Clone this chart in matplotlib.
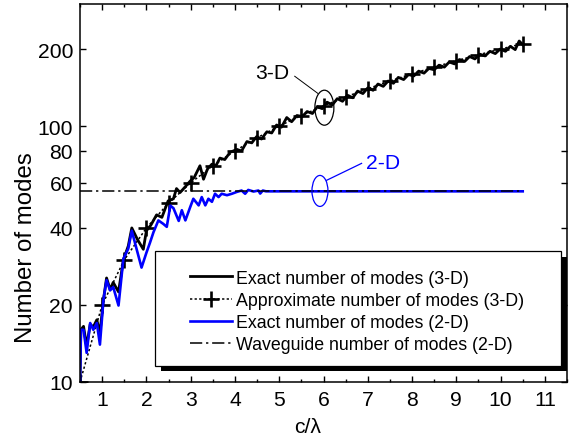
import matplotlib
matplotlib.use("Agg")
import matplotlib.pyplot as plt
import matplotlib.transforms as mtrans
from matplotlib.patches import Ellipse, Rectangle
from matplotlib.ticker import FixedLocator, NullLocator, FixedFormatter, MultipleLocator

plt.rcParams['font.family'] = ['Liberation Sans', 'DejaVu Sans']

# ---------------- data ----------------
exact3d_x = [0.50, 0.52, 0.58, 0.65, 0.73, 0.80, 0.88, 0.95, 1.03, 1.10, 1.18, 1.25,
             1.37, 1.48, 1.59, 1.67, 1.80, 1.93, 2.00, 2.10, 2.23, 2.35, 2.49, 2.61,
             2.68, 2.76, 2.88, 2.99, 3.08, 3.21, 3.29, 3.38, 3.48, 3.57, 3.66, 3.77,
             3.89, 4.04, 4.15, 4.27, 4.38, 4.49, 4.60, 4.72, 4.83, 4.94, 5.05, 5.17,
             5.28, 5.40, 5.52, 5.63, 5.75, 5.86, 5.97, 6.08, 6.20, 6.31, 6.43, 6.54,
             6.66, 6.77, 6.89, 7.00, 7.12, 7.23, 7.35, 7.46, 7.58, 7.69, 7.81, 7.92,
             8.04, 8.15, 8.27, 8.38, 8.50, 8.61, 8.73, 8.84, 8.96, 9.07, 9.19, 9.30,
             9.42, 9.53, 9.65, 9.76, 9.88, 9.99, 10.11, 10.22, 10.33, 10.42, 10.50]
exact3d_y = [10, 16, 16.5, 13.8, 16.8, 16.4, 17.5, 15.5, 21, 25.5, 23, 24.5,
             22.5, 30, 34, 40, 36, 33, 39, 41, 45, 44, 51, 52,
             57, 55, 58, 61, 63, 70, 62, 68, 71, 70, 75, 74,
             79, 81, 80, 87, 86, 91, 89, 95, 94, 101, 99, 108,
             104, 110, 109, 114, 112, 119, 117, 124, 121, 128, 125, 132,
             129, 137, 134, 141, 138, 146, 143, 150, 147, 155, 152, 159,
             157, 164, 161, 168, 166, 173, 170, 178, 175, 182, 179, 187,
             183, 191, 188, 196, 192, 200, 196, 205, 199, 215, 208]

approx3d_x = [0.5, 1.0, 1.5, 2.0, 2.5, 3.0, 3.5, 4.0, 4.5, 5.0, 5.5,
              6.0, 6.5, 7.0, 7.5, 8.0, 8.5, 9.0, 9.5, 10.0, 10.5]
approx3d_y = [10, 20, 30, 40, 50, 60, 70, 80, 90, 100, 110,
              120, 130, 140, 150, 160, 170, 180, 190, 200, 210]

exact2d_x = [0.50, 0.52, 0.58, 0.65, 0.73, 0.80, 0.88, 0.95, 1.03, 1.10, 1.18, 1.25,
             1.37, 1.48, 1.59, 1.67, 1.78, 1.89, 2.00, 2.08, 2.16, 2.27, 2.38, 2.46,
             2.54, 2.61, 2.73, 2.80, 2.88, 2.99, 3.06, 3.18, 3.25, 3.33, 3.40, 3.48,
             3.55, 3.63, 3.70, 3.82, 3.93, 4.04, 4.15, 4.23, 4.30, 4.42, 4.53, 4.57,
             4.63, 4.70, 10.50]
exact2d_y = [10, 16, 16, 13, 17, 16, 17, 14, 21, 25, 22.8, 23.5,
             19.9, 30.3, 33.2, 39, 33, 28, 32, 35, 38.5, 42.8, 41.5, 40.4,
             48.9, 47.8, 42.6, 46.9, 42.8, 48.3, 52, 49, 52.8, 49, 52, 50.6,
             54.4, 52.8, 54.4, 53.7, 54.4, 55.3, 56, 54.4, 56.3, 55.5, 56, 54.5,
             56, 55.6, 55.6]

waveguide_x = [0.5, 10.5]
waveguide_y = [55.6, 55.6]

labels = ["Exact number of modes (3-D)", "Approximate number of modes (3-D)",
          "Exact number of modes (2-D)", "Waveguide number of modes (2-D)"]
yticks = [10, 20, 40, 60, 80, 100, 200]
ytick_labels = ["10", "20", "40", "60", "80", "100", "200"]
xticks = [1, 2, 3, 4, 5, 6, 7, 8, 9, 10, 11]

# ---------------- figure ----------------
W, H = 570, 439
fig = plt.figure(figsize=(W / 100, H / 100), dpi=100)
ax = fig.add_axes([80 / W, 1 - 383 / H, 487 / W, 378 / H])

BLUE = "#0000ff"
l1, = ax.plot(exact3d_x, exact3d_y, color="black", lw=2.0, zorder=2.0)
l2, = ax.plot(approx3d_x, approx3d_y, color="black", lw=1.1, linestyle=(0, (1.5, 1.5)),
              marker="+", markersize=12, markeredgewidth=1.9, zorder=2.1)
l3, = ax.plot(exact2d_x, exact2d_y, color=BLUE, lw=1.9, zorder=2.2)
l4, = ax.plot(waveguide_x, waveguide_y, color="black", lw=1.1,
              linestyle=(0, (8, 2.5, 1.5, 2.5)), zorder=2.3)

ax.set_yscale("log")
ax.set_xlim(0.5, 11.5)
ax.set_ylim(10, 300)

ax.yaxis.set_major_locator(FixedLocator(yticks))
ax.yaxis.set_major_formatter(FixedFormatter(ytick_labels))
ax.yaxis.set_minor_locator(NullLocator())
ax.xaxis.set_major_locator(FixedLocator(xticks))
ax.xaxis.set_minor_locator(MultipleLocator(0.5))

ax.tick_params(axis="both", which="both", direction="in", top=True, right=True,
               width=1.0, labelsize=15.2)
ax.tick_params(axis="both", which="major", length=4.5)
ax.tick_params(axis="both", which="minor", length=2.3)
ax.tick_params(axis="x", which="major", pad=5.5)
ax.tick_params(axis="y", which="major", pad=5)
for s in ax.spines.values():
    s.set_linewidth(1.1)

ax.set_xlabel("c/λ", fontsize=15.2)
ax.set_ylabel("Number of modes", fontsize=17.3)
ax.xaxis.set_label_coords(228 / 487, -35 / 378)
ax.yaxis.set_label_coords(-43 / 487, 135 / 378)

# annotations: ellipses with fixed pixel size at data centres
def pix_ellipse(xc, yc, w_px, h_px, color):
    trans = fig.dpi_scale_trans + mtrans.ScaledTranslation(xc, yc, ax.transData)
    e = Ellipse((0, 0), w_px / 100, h_px / 100, transform=trans, fill=False,
                edgecolor=color, lw=0.9, zorder=3)
    ax.add_artist(e)

pix_ellipse(6.02, 118, 19, 35, "black")
pix_ellipse(5.92, 55.8, 16, 31, BLUE)
ax.plot([5.35, 5.87], [156.6, 134.3], color="black", lw=0.7, zorder=3)
ax.plot([6.07, 6.86], [61.4, 71.5], color=BLUE, lw=0.9, zorder=3)
ax.text(4.85, 162, "3-D", fontsize=15.2, ha="center", va="center", color="black")
ax.text(6.95, 72.1, "2-D", fontsize=15.2, ha="left", va="center", color=BLUE)

# legend frame with shadow (figure-fraction coordinates)
bx0, by0, bx1, by1 = 155, 252.3, 561, 366.7
sh = 5.5
ax.add_patch(Rectangle(((bx0 + sh) / W, 1 - (by1 + sh) / H), (bx1 - bx0) / W, (by1 - by0) / H,
                       transform=fig.transFigure, facecolor="black", edgecolor="black",
                       lw=0, clip_on=False, zorder=4))
ax.add_patch(Rectangle((bx0 / W, 1 - by1 / H), (bx1 - bx0) / W, (by1 - by0) / H,
                       transform=fig.transFigure, facecolor="white", edgecolor="black",
                       lw=0.9, clip_on=False, zorder=4.1))

leg = ax.legend([l1, l2, l3, l4], labels, loc="upper left",
                bbox_to_anchor=(190 / W, 1 - 270.5 / H), bbox_transform=fig.transFigure,
                frameon=False, borderpad=0, borderaxespad=0, fontsize=12.8,
                handlelength=2.35, handletextpad=0.25, labelspacing=0.30, numpoints=1)
leg.set_zorder(5)

fig.savefig("out.png", dpi=100)
